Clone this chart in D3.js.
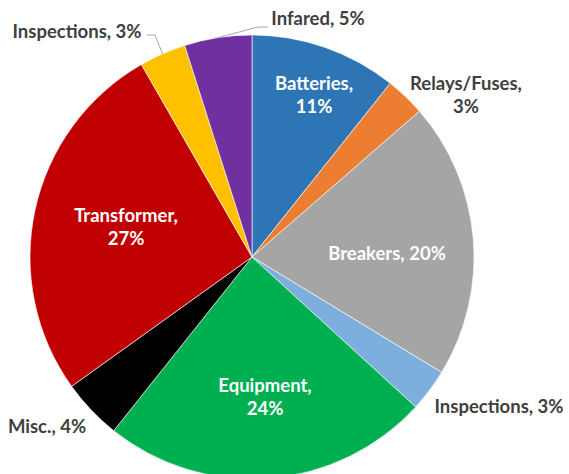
<!DOCTYPE html>
<html>
<head>
<meta charset="utf-8">
<script src="https://cdn.jsdelivr.net/npm/d3@7"></script>
<style>
  body { margin: 0; background: #fff; }
  svg { display: block; }
  text { font-family: Lato, "Open Sans", sans-serif; font-weight: bold; font-size: 18.5px; }
</style>
</head>
<body>
<div id="pie_chart"></div>
<script>
const categories = ["Batteries", "Relays/Fuses", "Breakers", "Inspections", "Equipment", "Misc.", "Transformer", "Inspections", "Infared"]
const values = [10.7, 2.9, 20.1, 3.1, 23.9, 4.4, 26.6, 3.4, 4.9]
const colors = ["#2E75B6", "#ED7D31", "#A5A5A5", "#7CAFDD", "#00B050", "#000000", "#C00000", "#FFC000", "#7030A0"]

// label placement relative to the pie centre (first baseline), split = two lines
const labelLayout = [
    { dx: 62, dy: -167, split: true, inside: true },
    { dx: 214, dy: -167, split: true, inside: false },
    { dx: 135, dy: 3, split: false, inside: true },
    { dx: 247, dy: 156, split: false, inside: false },
    { dx: 13, dy: 135, split: true, inside: true },
    { dx: -205, dy: 176, split: false, inside: false },
    { dx: -126, dy: -35, split: true, inside: true },
    { dx: -175, dy: -219, split: false, inside: false, leader: [[-97, -222], [-105, -222]] },
    { dx: 66, dy: -232, split: false, inside: false, leader: [[6, -230], [16, -230]] }
]

const render = () => {
    const width = 569
    const height = 474
    const cx = 252
    const cy = 257
    const radius = 222

    const svg = d3.select("#pie_chart")
        .append("svg")
        .attr("width", width)
        .attr("height", height)

    const g = svg.append("g")
        .attr("transform", `translate(${cx},${cy})`)

    const pie = d3.pie().sort(null).value(d => d)
    const arcs = pie(values)

    const arc = d3.arc().innerRadius(0).outerRadius(radius)
    const edgeArc = d3.arc().innerRadius(radius).outerRadius(radius)

    g.selectAll("path.slice")
        .data(arcs)
        .join("path")
        .attr("class", "slice")
        .attr("d", arc)
        .attr("fill", (d, i) => colors[i])
        .attr("stroke", "#ffffff")
        .attr("stroke-width", 0.6)

    // leader lines
    g.selectAll("polyline.leader")
        .data(arcs.filter((d, i) => labelLayout[i].leader))
        .join("polyline")
        .attr("class", "leader")
        .attr("fill", "none")
        .attr("stroke", "#A6A6A6")
        .attr("stroke-width", 1)
        .attr("points", d => {
            const start = edgeArc.centroid(d)
            return [start].concat(labelLayout[d.index].leader).map(p => p.join(",")).join(" ")
        })

    const labels = g.selectAll("text.label")
        .data(arcs)
        .join("text")
        .attr("class", "label")
        .attr("text-anchor", "middle")
        .attr("fill", (d, i) => labelLayout[i].inside ? "#ffffff" : "#404040")
        .attr("x", (d, i) => labelLayout[i].dx)
        .attr("y", (d, i) => labelLayout[i].dy)

    labels.each(function(d, i) {
        const pct = `${Math.round(values[i])}%`
        const lines = labelLayout[i].split ? [categories[i] + ",", pct] : [`${categories[i]}, ${pct}`]
        d3.select(this).selectAll("tspan")
            .data(lines)
            .join("tspan")
            .attr("x", labelLayout[i].dx)
            .attr("dy", (t, j) => j === 0 ? 0 : 23)
            .text(t => t)
    })
}

render()
</script>
</body>
</html>
